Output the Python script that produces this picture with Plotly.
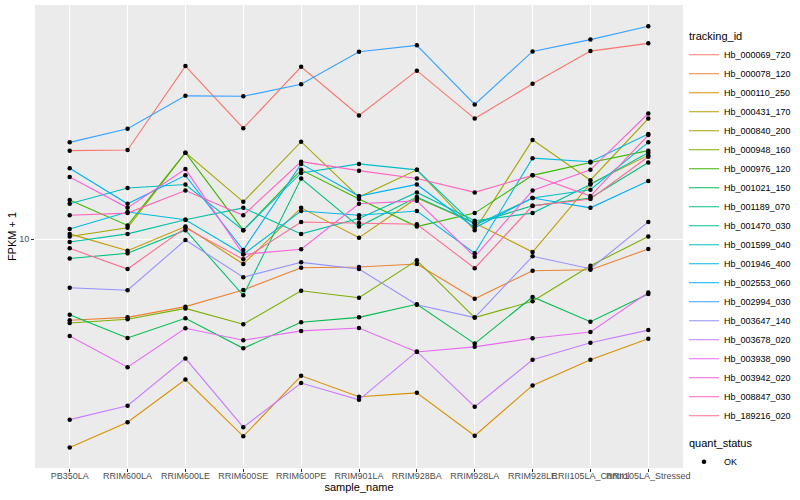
import plotly.graph_objects as go

categories = ["PB350LA", "RRIM600LA", "RRIM600LE", "RRIM600SE", "RRIM600PE", "RRIM901LA",
              "RRIM928BA", "RRIM928LA", "RRIM928LE", "RRII105LA_Control", "RRII105LA_Stressed"]

tracking_ids = ["Hb_000069_720", "Hb_000078_120", "Hb_000110_250", "Hb_000431_170", "Hb_000840_200",
                "Hb_000948_160", "Hb_000976_120", "Hb_001021_150", "Hb_001189_070", "Hb_001470_030",
                "Hb_001599_040", "Hb_001946_400", "Hb_002553_060", "Hb_002994_030", "Hb_003647_140",
                "Hb_003678_020", "Hb_003938_090", "Hb_003942_020", "Hb_008847_030", "Hb_189216_020"]

colors = ["#F8766D", "#EA8331", "#D89000", "#C09B00", "#A3A500", "#7CAE00", "#39B600", "#00BB4E",
          "#00BF7D", "#00C1A3", "#00BFC4", "#00BAE0", "#00B0F6", "#35A2FF", "#9590FF", "#C77CFF",
          "#E76BF3", "#FA62DB", "#FF62BC", "#FF6C91"]

# FPKM + 1 values per gene, in category order
hb_000069_720 = [19.7, 19.8, 37.7, 23.4, 37.5, 25.8, 36.4, 25.2, 32.9, 42.3, 44.9]
hb_000078_120 = [5.36, 5.48, 5.95, 6.76, 8.02, 8.07, 8.25, 6.32, 7.84, 7.90, 9.26]
hb_000110_250 = [2.02, 2.45, 3.40, 2.20, 3.50, 2.98, 3.07, 2.21, 3.25, 3.96, 4.65]
hb_000431_170 = [10.4, 9.14, 11.0, 8.25, 12.7, 10.1, 13.7, 11.3, 9.05, 15.3, 19.0]
hb_000840_200 = [10.2, 10.9, 19.4, 13.3, 21.1, 13.8, 17.0, 10.7, 21.4, 15.7, 25.2]
hb_000948_160 = [5.25, 5.40, 5.87, 5.20, 6.72, 6.37, 8.49, 5.47, 6.20, 8.15, 10.2]
hb_000976_120 = [13.5, 11.1, 19.4, 10.7, 17.0, 13.6, 11.0, 12.2, 16.3, 18.0, 19.7]
hb_001021_150 = [5.59, 4.68, 5.44, 4.32, 5.28, 5.48, 6.06, 4.48, 6.41, 5.30, 6.56]
hb_001189_070 = [8.61, 8.96, 10.7, 6.49, 15.9, 11.0, 13.8, 11.3, 12.9, 13.7, 18.0]
hb_001470_030 = [9.77, 10.4, 11.6, 12.7, 10.4, 11.7, 14.3, 11.5, 12.2, 15.2, 19.4]
hb_001599_040 = [13.1, 14.8, 15.2, 10.7, 16.6, 17.8, 17.0, 11.1, 13.7, 14.6, 21.0]
hb_001946_400 = [10.8, 12.3, 11.6, 8.89, 12.4, 12.0, 12.4, 8.96, 18.6, 18.1, 22.4]
hb_002553_060 = [17.2, 13.1, 16.3, 9.19, 17.8, 13.9, 15.2, 10.9, 13.7, 12.7, 15.6]
hb_002994_030 = [21.0, 23.3, 30.0, 29.9, 32.8, 42.1, 44.2, 28.1, 42.2, 46.2, 51.2]
hb_003647_140 = [6.88, 6.75, 9.92, 7.46, 8.36, 7.94, 6.04, 5.47, 8.76, 7.96, 11.4]
hb_003678_020 = [2.50, 2.78, 4.00, 2.36, 3.31, 2.91, 4.22, 2.76, 3.96, 4.51, 4.97]
hb_003938_090 = [4.75, 3.74, 5.04, 4.60, 4.94, 5.05, 4.20, 4.37, 4.67, 4.90, 6.63]
hb_003942_020 = [16.1, 12.7, 17.1, 8.89, 9.24, 13.1, 13.4, 8.73, 14.5, 17.0, 26.2]
hb_008847_030 = [12.0, 12.2, 14.5, 12.0, 18.1, 16.9, 15.9, 14.3, 16.3, 13.9, 22.2]
hb_189216_020 = [9.31, 7.94, 10.9, 8.56, 11.4, 11.3, 11.2, 7.99, 12.9, 13.6, 18.8]

series_values = [hb_000069_720, hb_000078_120, hb_000110_250, hb_000431_170, hb_000840_200,
                 hb_000948_160, hb_000976_120, hb_001021_150, hb_001189_070, hb_001470_030,
                 hb_001599_040, hb_001946_400, hb_002553_060, hb_002994_030, hb_003647_140,
                 hb_003678_020, hb_003938_090, hb_003942_020, hb_008847_030, hb_189216_020]

quant_status = "OK"

FONT = "Liberation Sans, Arial, Helvetica, sans-serif"

fig = go.Figure()
for i, (tid, col, vals) in enumerate(zip(tracking_ids, colors, series_values)):
    fig.add_trace(go.Scatter(
        x=categories, y=vals, mode="lines", name=tid,
        line=dict(color=col, width=1.1),
        legendgroup="tracking_id",
        legendgrouptitle=dict(text="tracking_id", font=dict(size=11, color="black")) if i == 0 else None,
    ))

all_x = [c for _ in series_values for c in categories]
all_y = [v for vals in series_values for v in vals]
fig.add_trace(go.Scatter(
    x=all_x, y=all_y, mode="markers", name=quant_status,
    marker=dict(color="black", size=4.5, symbol="circle"),
    legendgroup="quant_status",
    legendgrouptitle=dict(text="quant_status", font=dict(size=11, color="black")),
))

fig.update_layout(
    width=800, height=500,
    margin=dict(l=35, r=116, t=5, b=32),
    paper_bgcolor="white", plot_bgcolor="#EBEBEB",
    font=dict(family=FONT, size=9, color="#4D4D4D"),
    showlegend=True,
    legend=dict(x=1.0, xanchor="left", y=0.965, yanchor="top",
                font=dict(size=9, color="black", family=FONT),
                tracegroupgap=8, itemwidth=30, bgcolor="rgba(0,0,0,0)",
                traceorder="grouped"),
)
fig.update_xaxes(
    type="category", categoryorder="array", categoryarray=categories,
    range=[-0.6, 10.6], showgrid=True, gridcolor="white", gridwidth=1.1,
    ticks="outside", ticklen=3, tickcolor="#333333", tickangle=0,
    ticklabelstandoff=-4,
    tickfont=dict(size=9, color="#4D4D4D"), zeroline=False, showline=False,
    title=dict(text="sample_name", font=dict(size=11, color="black"), standoff=0),
)
fig.update_yaxes(
    type="log", range=[0.2367, 1.78], tickvals=[10], ticktext=["10"],
    showgrid=True, gridcolor="white", gridwidth=1.1,
    ticks="outside", ticklen=3, tickcolor="#333333",
    tickfont=dict(size=9, color="#4D4D4D"), zeroline=False, showline=False,
    title=dict(text="FPKM + 1", font=dict(size=11, color="black"), standoff=0),
)

fig.write_html("out.html", config={"displayModeBar": False},
               post_script="document.body.style.margin='0px';")
